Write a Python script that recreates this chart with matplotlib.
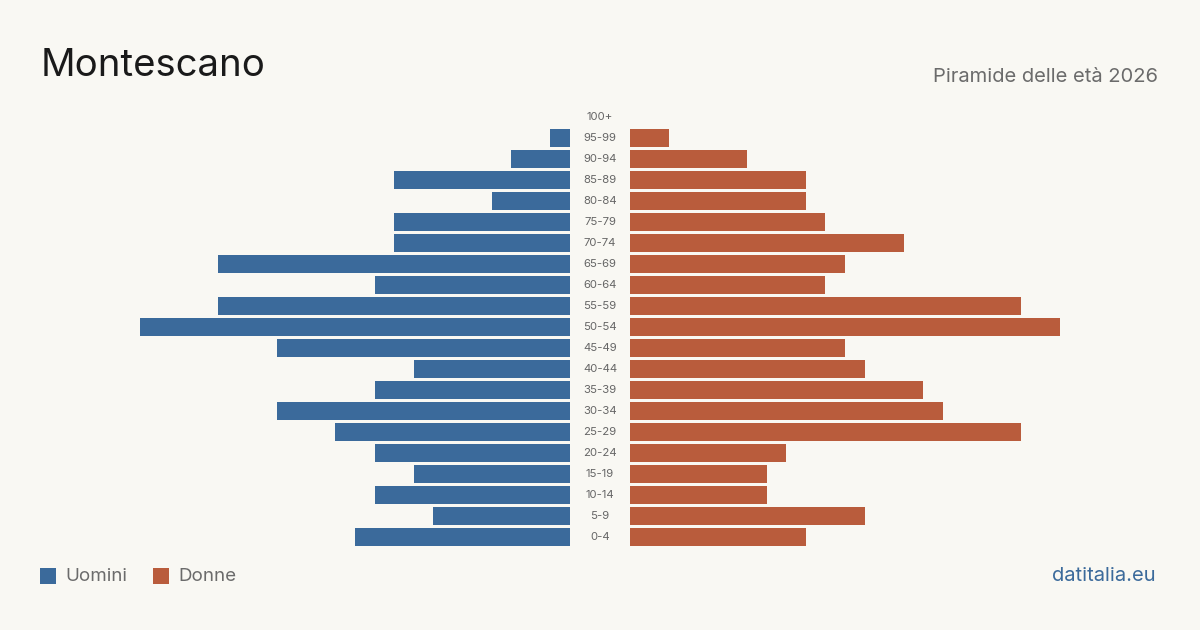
import matplotlib.pyplot as plt
from matplotlib.patches import Rectangle

plt.rcParams['font.family'] = ['Inter', 'DejaVu Sans']

# age classes, top to bottom
ages = ['100+', '95-99', '90-94', '85-89', '80-84', '75-79', '70-74', '65-69',
        '60-64', '55-59', '50-54', '45-49', '40-44', '35-39', '30-34', '25-29',
        '20-24', '15-19', '10-14', '5-9', '0-4']
uomini = [0, 1, 3, 9, 4, 9, 9, 18, 10, 18, 22, 15, 8, 10, 15, 12, 10, 8, 10, 7, 11]
donne = [0, 2, 6, 9, 9, 10, 14, 11, 10, 20, 22, 11, 12, 15, 16, 20, 8, 7, 7, 12, 9]

bg = '#f9f8f3'
blue = '#3b6a9b'
orange = '#b95c3c'
xmax = max(max(uomini), max(donne))

fig = plt.figure(figsize=(12, 6.3), dpi=100, facecolor=bg)
W, H = 1200, 630

def px_axes(x0, y0, x1, y1):
    return fig.add_axes([x0 / W, 1 - y1 / H, (x1 - x0) / W, (y1 - y0) / H])

ax_l = px_axes(140, 106.5, 570, 547.5)
ax_r = px_axes(630, 106.5, 1060, 547.5)

ypos = list(range(len(ages)))
for ax, vals, col in [(ax_l, uomini, blue), (ax_r, donne, orange)]:
    ax.barh(ypos, vals, height=0.81, color=col)
    ax.set_ylim(len(ages) - 0.5, -0.5)
    ax.set_facecolor('none')
    ax.axis('off')
ax_l.set_xlim(xmax, 0)
ax_r.set_xlim(0, xmax)

# age labels in the middle gap
for i, a in enumerate(ages):
    y = 117 + i * 21
    fig.text(600 / W, 1 - y / H, a, ha='center', va='center', fontsize=8.2, color='#666666')

# title / subtitle
fig.text(41 / W, 1 - 66 / H, 'Montescano', ha='left', va='center', fontsize=27.6, color='#1a1a1a')
fig.text(1158 / W, 1 - 77 / H, 'Piramide delle età 2026', ha='right', va='center', fontsize=14.5, color='#6b6b6b')

# legend
for x0, col, lab in [(40, blue, 'Uomini'), (153, orange, 'Donne')]:
    fig.patches.append(Rectangle((x0 / W, 1 - 584 / H), 16 / W, 16 / H,
                                 transform=fig.transFigure, facecolor=col, edgecolor='none'))
    fig.text((x0 + 25) / W, 1 - 576.5 / H, lab, ha='left', va='center', fontsize=13.5, color='#6b6b6b')

fig.text(1156 / W, 1 - 576 / H, 'datitalia.eu', ha='right', va='center', fontsize=14.5, color=blue)

fig.savefig('out.png', dpi=100, facecolor=bg)
plt.close(fig)
